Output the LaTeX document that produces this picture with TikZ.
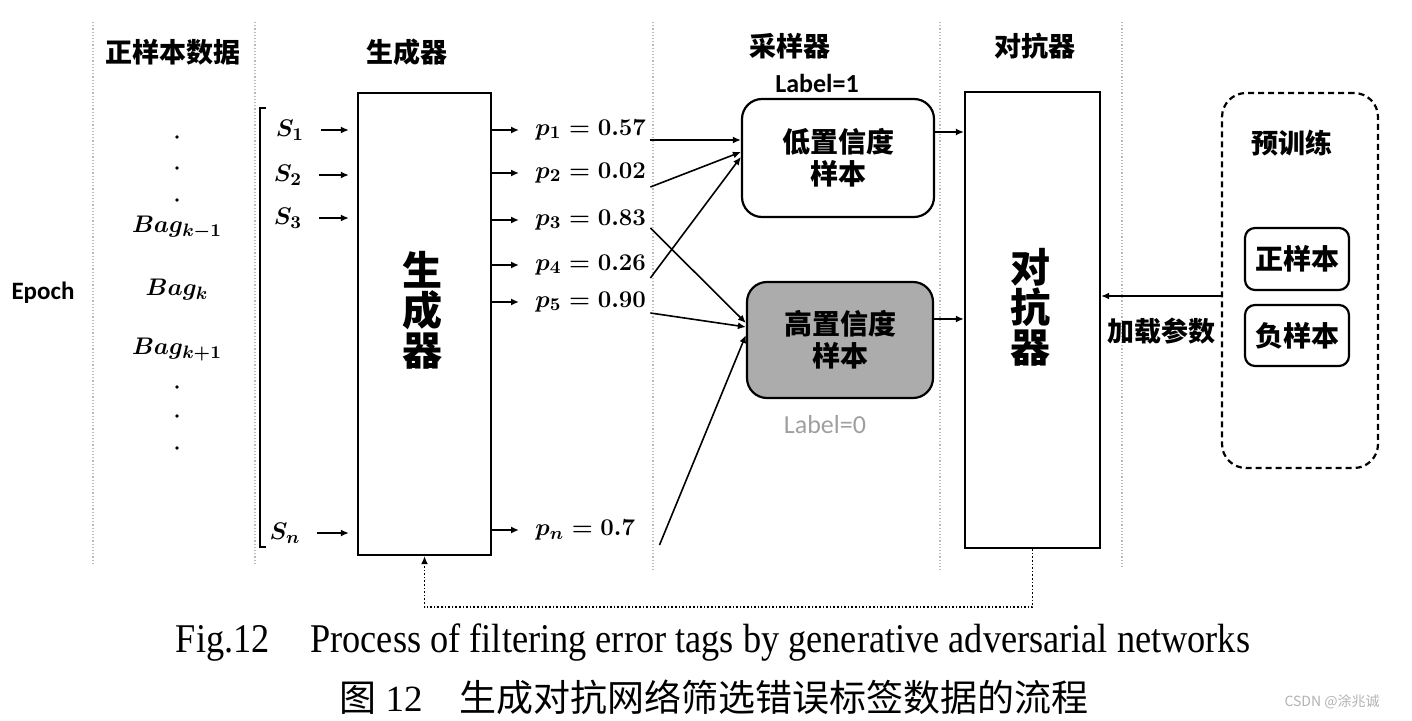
\documentclass[tikz,border=0pt]{standalone}
\usepackage{fontspec}
\setmainfont{Liberation Serif}
\newfontfamily\cjk{Noto Sans CJK SC}
\newfontfamily\carlito{Carlito}
\newfontfamily\capfont[FakeStretch=0.89]{Liberation Serif}
\usetikzlibrary{arrows.meta,calc,positioning}

\begin{document}
\begin{tikzpicture}[x=0.5pt,y=-0.5pt,
    head/.style={font=\cjk\bfseries\fontsize{13.5}{16}\selectfont},
    mth/.style={font=\boldmath\fontsize{13}{16}\selectfont, inner sep=2pt},
    big/.style={font=\cjk\bfseries\fontsize{20}{20}\selectfont, align=center},
    txt/.style={font=\cjk\bfseries\fontsize{14}{16}\selectfont, align=center},
    tag/.style={font=\carlito\bfseries\fontsize{13}{15}\selectfont},
    sep/.style={gray!55, densely dotted, line width=0.6pt},
    blk/.style={draw, line width=1.1pt},
    rbox/.style={draw, line width=1.1pt, rounded corners=10pt, align=center},
    arr/.style={-{Latex[length=4pt,width=3.5pt]}, thick}]
  \useasboundingbox (0,0) rectangle (1412,721);
  % column separators
  \draw[sep] (93,22) -- (93,565);
  \draw[sep] (255,22) -- (255,565);
  \draw[sep] (653,22) -- (653,570);
  \draw[sep] (940,22) -- (940,570);
  \draw[sep] (1122,22) -- (1122,567);
  % headers
  \node[head] (hpos) at (173,52) {正样本数据};
  \node[head] (hgen) at (407,52) {生成器};
  \node[head] (hsam) at (790,46) {采样器};
  \node[head] (hadv) at (1035,46) {对抗器};
  % epoch and bags
  \node[font=\carlito\bfseries\fontsize{12.5}{15}\selectfont] (epoch) at (43,293) {Epoch};
  \fill (177,137) circle (0.9pt);
  \fill (177,168) circle (0.9pt);
  \fill (177,200) circle (0.9pt);
  \node[mth] (bagA) at (177,228) {$Bag_{k-1}$};
  \node[mth] (bagB) at (177,290) {$Bag_{k}$};
  \node[mth] (bagC) at (177,350) {$Bag_{k+1}$};
  \fill (177,387) circle (0.9pt);
  \fill (177,416) circle (0.9pt);
  \fill (177,448) circle (0.9pt);
  % bracket
  \draw[line width=1pt] (266,108) -- (260,108) -- (260,547) -- (266,547);
  % generator
  \node[blk, minimum width=66.5pt, minimum height=231pt] (gen) at (424.5,324) {};
  \node[big] (gentxt) at (422,310) {生\\成\\器};
  % inputs
  \node[mth] (s1) at (290,130) {$S_1$};
  \node[mth] (s2) at (288,175) {$S_2$};
  \node[mth] (s3) at (288,218) {$S_3$};
  \node[mth] (sn) at (285,533) {$S_n$};
  \draw[arr, shorten <=6pt, shorten >=4pt] (s1.east) -- (s1.east -| gen.west);
  \draw[arr, shorten <=6pt, shorten >=4pt] (s2.east) -- (s2.east -| gen.west);
  \draw[arr, shorten <=6pt, shorten >=4pt] (s3.east) -- (s3.east -| gen.west);
  \draw[arr, shorten <=6pt, shorten >=4pt] (sn.east) -- (sn.east -| gen.west);
  % probabilities
  \node[mth, anchor=west] (p1) at (531,130) {$p_1 = 0.57$};
  \node[mth, anchor=west] (p2) at (531,173) {$p_2 = 0.02$};
  \node[mth, anchor=west] (p3) at (531,220) {$p_3 = 0.83$};
  \node[mth, anchor=west] (p4) at (531,265) {$p_4 = 0.26$};
  \node[mth, anchor=west] (p5) at (531,302) {$p_5 = 0.90$};
  \node[mth, anchor=west] (pn) at (531,530) {$p_n = 0.7$};
  \draw[arr, shorten >=6pt] (p1.west -| gen.east) -- (p1.west);
  \draw[arr, shorten >=6pt] (p2.west -| gen.east) -- (p2.west);
  \draw[arr, shorten >=6pt] (p3.west -| gen.east) -- (p3.west);
  \draw[arr, shorten >=6pt] (p4.west -| gen.east) -- (p4.west);
  \draw[arr, shorten >=6pt] (p5.west -| gen.east) -- (p5.west);
  \draw[arr, shorten >=6pt] (pn.west -| gen.east) -- (pn.west);
  % sampler
  \node[tag] (lab1) at (817,83) {Label=1};
  \node[rbox, txt, minimum width=96pt, minimum height=59pt] (low) at (838,158) {低置信度\\样本};
  \node[rbox, txt, fill=gray!65, minimum width=93pt, minimum height=58pt] (high) at (840,340) {高置信度\\样本};
  \node[tag, font=\carlito\fontsize{13}{15}\selectfont, text=gray!75] (lab0) at (825,425) {Label=0};
  \draw[arr] ([yshift=-5pt]p1.east) -- ([yshift=9pt]low.west);
  \draw[arr] ([yshift=-7pt]p2.east) -- ([yshift=3pt]low.west);
  \draw[arr] ([yshift=-6.5pt]p4.east) -- ([yshift=0.5pt]low.west);
  \draw[arr] ([yshift=-4pt]p3.east) -- ([yshift=8.5pt]high.west);
  \draw[arr] ([yshift=-5.5pt]p5.east) -- ([yshift=6.5pt]high.west);
  \draw[arr] ([xshift=10pt,yshift=-7.5pt]pn.east) -- ([yshift=2.5pt]high.west);
  % adversary
  \node[blk, minimum width=67.5pt, minimum height=228pt] (adv) at (1032.5,320) {};
  \node[big] (advtxt) at (1030,307) {对\\抗\\器};
  \draw[arr] ([yshift=13pt]low.east) -- ([yshift=13pt]low.east -| adv.west);
  \draw[arr] ([yshift=10.5pt]high.east) -- ([yshift=10.5pt]high.east -| adv.west);
  % pretraining
  \node[draw, densely dashed, line width=1.1pt, rounded corners=12pt, minimum width=78pt, minimum height=187.5pt] (pre) at (1300,280.5) {};
  \node[head] (pretxt) at (1292,143) {预训练};
  \node[rbox, txt, rounded corners=5pt, minimum width=52pt, minimum height=31pt] (pos) at (1297,259) {正样本};
  \node[rbox, txt, rounded corners=5pt, minimum width=52pt, minimum height=30.5pt] (neg) at (1297,335.5) {负样本};
  \draw[arr] ([yshift=-7.75pt]pre.west) -- ([yshift=-7.75pt]pre.west -| adv.east);
  \node[head] (load) at (1161,331) {加载参数};
  % feedback
  \draw[-{Latex[length=4pt,width=3.5pt]}, densely dotted, thick] (adv.south) -- ++(0,58) -| (gen.south);
  % caption
  \node[font=\capfont\fontsize{20.4}{24}\selectfont] (capen) at (713,643) {Fig.12\quad Process of filtering error tags by generative adversarial networks};
  \node[font=\fontsize{18.5}{22}\selectfont] (capzh) at (714,697) {{\cjk 图} 12\quad{\cjk 生成对抗网络筛选错误标签数据的流程}};
  \node[font=\cjk\fontsize{7}{8}\selectfont, text=gray!60] (wm) at (1332,702) {CSDN @涂兆诚};
\end{tikzpicture}
\end{document}
